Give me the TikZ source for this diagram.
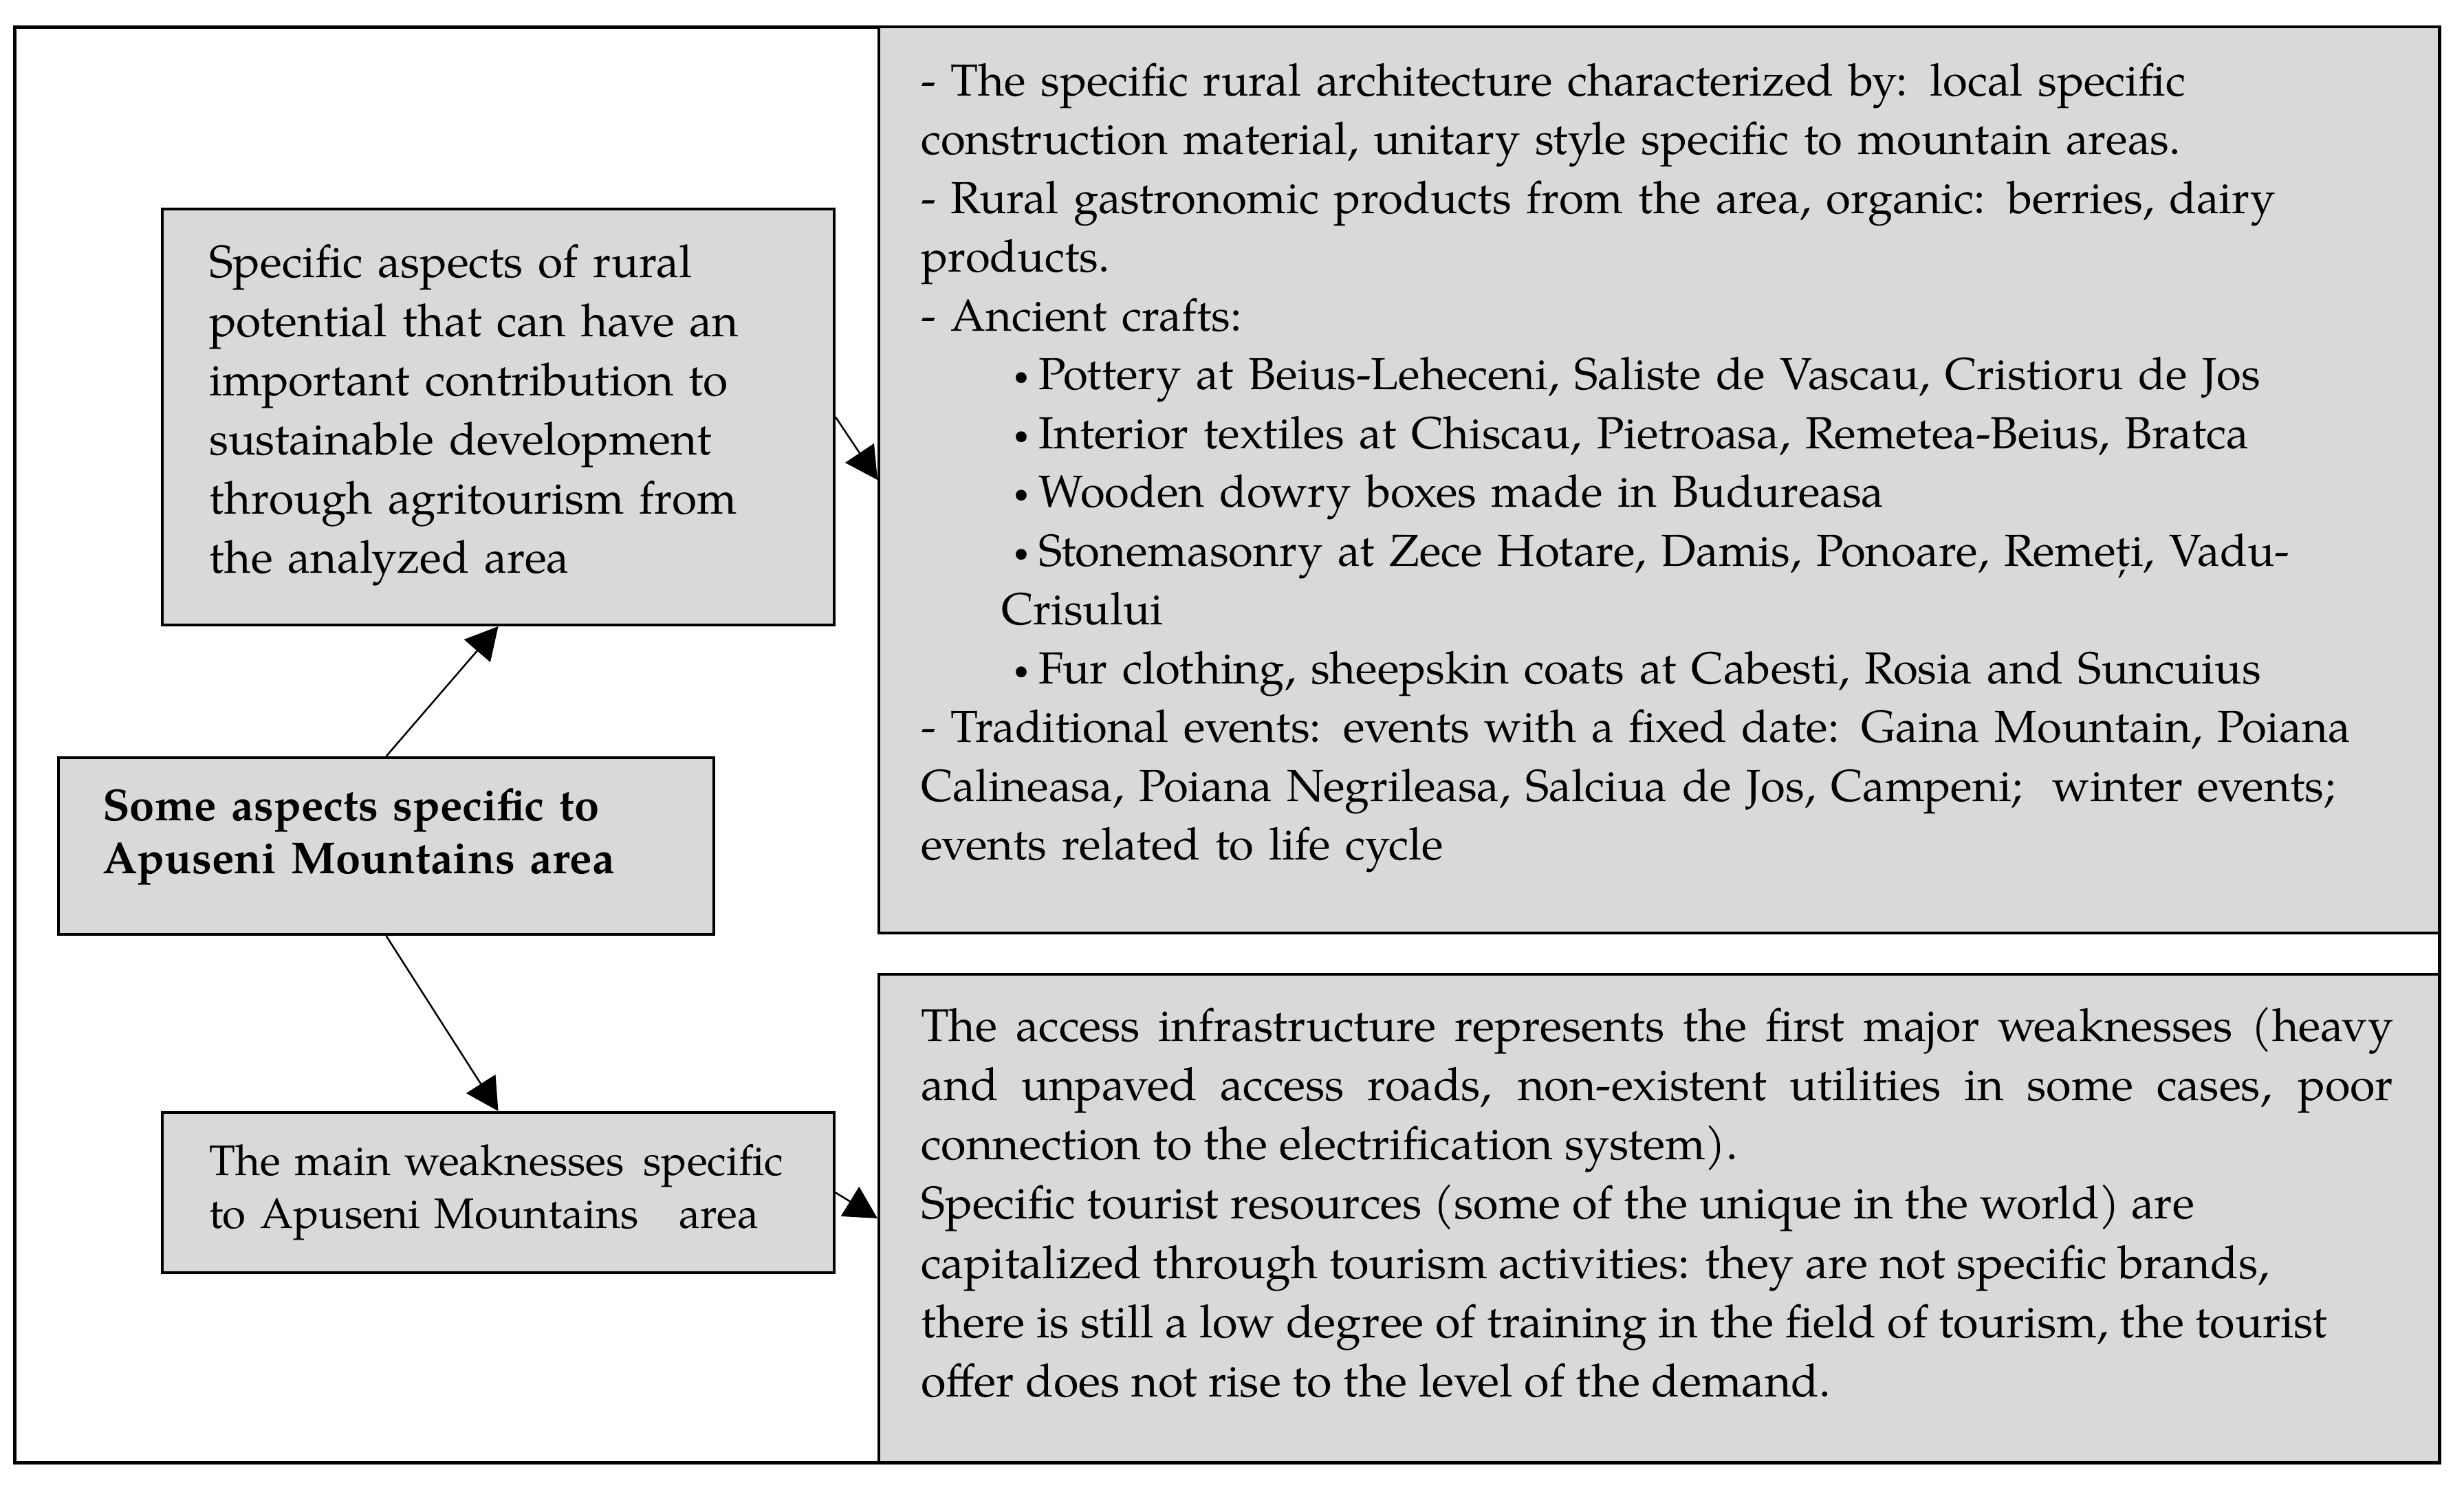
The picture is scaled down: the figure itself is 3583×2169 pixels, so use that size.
\documentclass[tikz,border=0pt]{standalone}
\usepackage{fontspec}
\usepackage{graphicx}
\setmainfont{TeX Gyre Pagella}
\usetikzlibrary{arrows.meta}
\definecolor{boxgray}{RGB}{217,217,217}
\hbadness=10000
\tolerance=10000
\newcommand\mybullet{\hspace*{135pt}\makebox[36pt][l]{\raisebox{7pt}{\scalebox{0.6}{•}}}}
\begin{document}
\begin{tikzpicture}[x=1pt,y=-1pt,
  outerframe/.style={draw=black, line width=5pt, fill=white, rectangle, inner sep=0pt, anchor=north west},
  graybox/.style={draw=black, line width=4pt, fill=boxgray, rectangle, inner sep=0pt, anchor=north west},
  txt/.style={anchor=base west, inner sep=0pt, align=left, text width=#1},
  conn/.style={line width=2.5pt, -{Triangle[length=47pt,width=50pt]}}
]
\useasboundingbox (0,0) rectangle (3583,2169);

% boxes
\node[outerframe, minimum width=3526pt, minimum height=2088pt] (frame) at (19,37) {};
\node[graybox, minimum width=2269pt, minimum height=1318pt] (arch) at (1276,37) {};
\node[graybox, minimum width=2269pt, minimum height=710pt] (weak) at (1276,1415) {};
\node[graybox, minimum width=977pt, minimum height=605pt] (potential) at (234,302) {};
\node[graybox, minimum width=953pt, minimum height=257pt] (main) at (83,1100) {};
\node[graybox, minimum width=977pt, minimum height=233pt] (weakness) at (234,1616) {};

% texts
\node[txt=900pt, font=\fontsize{66pt}{86pt}\selectfont] (potentialtext) at (304,403)
{Specific aspects of rural\\potential that can have an\\important contribution to\\sustainable development\\through agritourism from\\the analyzed area};

\node[txt=900pt, font=\bfseries\fontsize{65pt}{77pt}\selectfont] (maintext) at (149,1193)
{Some aspects specific to\\Apuseni Mountains area};

\node[txt=900pt, font=\fontsize{62pt}{77pt}\selectfont] (weaknesstext) at (304,1709)
{The main weaknesses\hspace{28pt}specific\\to Apuseni Mountains\hspace{58pt}area};

\node[txt=2200pt, font=\fontsize{65.3pt}{85.5pt}\selectfont] (archtext) at (1339,139)
{- The specific rural architecture characterized by: local specific\\
construction material, unitary style specific to mountain areas.\\
- Rural gastronomic products from the area, organic: berries, dairy\\
products.\\
- Ancient crafts:\\
\mybullet Pottery at Beius-Leheceni, Saliste de Vascau, Cristioru de Jos\\
\mybullet Interior textiles at Chiscau, Pietroasa, Remetea-Beius, Bratca\\
\mybullet Wooden dowry boxes made in Budureasa\\
\mybullet Stonemasonry at Zece Hotare, Damis, Ponoare, Remeți, Vadu-\\
\hspace*{117pt}Crisului\\
\mybullet Fur clothing, sheepskin coats at Cabesti, Rosia and Suncuius\\
- Traditional events: events with a fixed date: Gaina Mountain, Poiana\\
Calineasa, Poiana Negrileasa, Salciua de Jos, Campeni;\ \ winter events;\\
events related to life cycle};

\node[anchor=base west, inner sep=0pt, align=justify, text width=2141pt, font=\fontsize{66.5pt}{86.3pt}\selectfont] (weaktext) at (1339,1514)
{The access infrastructure represents the first major weaknesses (heavy\linebreak
and unpaved access roads, non-existent utilities in some cases, poor\linebreak
connection to the electrification system).\newline
Specific tourist resources (some of the unique in the world) are\newline
capitalized through tourism activities: they are not specific brands,\newline
there is still a low degree of training in the field of tourism, the tourist\newline
offer does not rise to the level of the demand.};

% connectors
\draw[conn] (main.north) -- (potential.south);
\draw[conn] (main.south) -- (weakness.north);
\draw[conn] (potential.east) -- (arch.west);
\draw[conn] (weakness.east) -- (weak.west);
\end{tikzpicture}
\end{document}
